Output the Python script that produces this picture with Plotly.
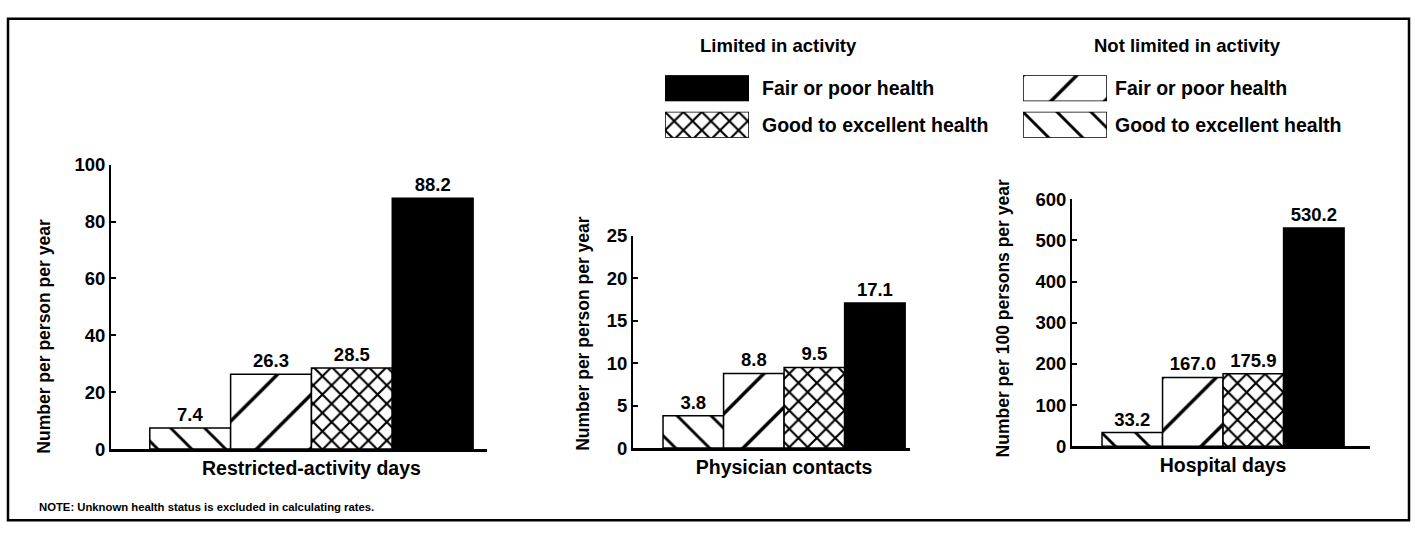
import plotly.graph_objects as go

W, H = 1415, 534

# ---- data ----
categories = ["Restricted-activity days", "Physician contacts", "Hospital days"]
not_limited_good = [7.4, 3.8, 33.2]
not_limited_fair = [26.3, 8.8, 167.0]
limited_good = [28.5, 9.5, 175.9]
limited_fair = [88.2, 17.1, 530.2]
y_tickvals = [[0, 20, 40, 60, 80, 100], [0, 5, 10, 15, 20, 25], [0, 100, 200, 300, 400, 500, 600]]
y_ranges = [[0, 100], [0, 25], [0, 600]]
y_titles = ["Number per person per year", "Number per person per year",
            "Number per 100 persons per year"]
group_headers = ["Limited in activity", "Not limited in activity"]
health_labels = ["Fair or poor health", "Good to excellent health"]
note_text = "NOTE: Unknown health status is excluded in calculating rates."
swatch_value = [1]

FONT = "Liberation Sans"


def fnt(size):
    return dict(family=FONT, size=size, color="black", weight="bold")


def fx(p):
    return p / W


def fy(p):
    return 1 - p / H


def pat(shape, size, solidity):
    return dict(shape=shape, fgcolor="black", bgcolor="white", fgopacity=1,
                fillmode="replace", size=size, solidity=solidity)


styles = {
    "nl_good": dict(color="white", pattern=pat("\\", 24, 0.12)),
    "nl_fair": dict(color="white", pattern=pat("/", 38, 0.09)),
    "l_good": dict(color="white", pattern=pat("x", 13, 0.3)),
    "l_fair": dict(color="black"),
}

series = [
    ("nl_good", "Not limited: " + health_labels[1], not_limited_good),
    ("nl_fair", "Not limited: " + health_labels[0], not_limited_fair),
    ("l_good", "Limited: " + health_labels[1], limited_good),
    ("l_fair", "Limited: " + health_labels[0], limited_fair),
]

# panel geometry (pixels)
x_domains_px = [(111, 487), (633, 910), (1072, 1370)]
y_domains_px = [(456, 160), (455, 234), (453, 196)]
x_ranges = [[-0.62, 0.543], [-0.624, 0.52], [-0.624, 0.607]]
ytitle_pos = [(44, 339), (583, 336), (1003, 320)]

fig = go.Figure()
layout = {}

for i in range(3):
    ax = "" if i == 0 else str(i + 1)
    for key, name, vals in series:
        st = styles[key]
        fig.add_trace(go.Bar(
            x=[categories[i]], y=[vals[i]], name=name, showlegend=False,
            xaxis="x" + ax, yaxis="y" + ax,
            marker=dict(color=st["color"], pattern=st.get("pattern"),
                        line=dict(color="black", width=1.5)),
            text=[f"{vals[i]:.1f}"], textposition="outside", constraintext="none",
            textfont=fnt(18.5), cliponaxis=False,
        ))
    layout["xaxis" + ax] = dict(
        domain=[fx(x_domains_px[i][0]), fx(x_domains_px[i][1])],
        anchor="y" + ax, type="category", range=x_ranges[i],
        showline=True, linecolor="black", linewidth=2.5, ticks="",
        tickfont=fnt(19.5),
        showgrid=False, zeroline=False, fixedrange=True,
    )
    layout["yaxis" + ax] = dict(
        domain=[fy(y_domains_px[i][0]), fy(y_domains_px[i][1])],
        anchor="x" + ax, range=y_ranges[i], tickvals=y_tickvals[i],
        showline=True, linecolor="black", linewidth=2, ticks="inside", ticklen=5,
        tickcolor="black", tickwidth=2,
        tickfont=fnt(18.5),
        showgrid=False, zeroline=False, fixedrange=True,
    )

# legend swatches drawn as bars in small axes
swatches = [
    ("l_fair", (665, 749), (94, 67)),
    ("l_good", (665, 749), (132, 105)),
    ("nl_fair", (1023, 1107), (94, 67)),
    ("nl_good", (1023, 1107), (132, 105)),
]
for j, (key, xs, ys) in enumerate(swatches):
    n = str(4 + j)
    st = styles[key]
    fig.add_trace(go.Bar(
        x=[0], y=swatch_value, width=1, showlegend=False, hoverinfo="skip",
        xaxis="x" + n, yaxis="y" + n,
        marker=dict(color=st["color"], pattern=st.get("pattern"),
                    line=dict(color="black", width=1.5)),
    ))
    layout["xaxis" + n] = dict(domain=[fx(xs[0]), fx(xs[1])], anchor="y" + n, range=[-0.5, 0.5],
                               visible=False, fixedrange=True)
    layout["yaxis" + n] = dict(domain=[fy(ys[0]), fy(ys[1])], anchor="x" + n, range=[0, 1],
                               visible=False, fixedrange=True)

annotations = []
for i in range(3):
    annotations.append(dict(
        text=y_titles[i], x=fx(ytitle_pos[i][0]), y=fy(ytitle_pos[i][1]),
        xref="paper", yref="paper", textangle=-90, showarrow=False,
        xanchor="center", yanchor="middle", font=fnt(17.5),
    ))

# legend headers and labels
annotations.append(dict(text=group_headers[0], x=fx(779), y=fy(36), xref="paper", yref="paper",
                        showarrow=False, xanchor="center", yanchor="middle", font=fnt(18.5)))
annotations.append(dict(text=group_headers[1], x=fx(1187), y=fy(36), xref="paper", yref="paper",
                        showarrow=False, xanchor="center", yanchor="middle", font=fnt(18.5)))
for (xl, row_y) in [(760, 80), (1113, 80)]:
    annotations.append(dict(text=health_labels[0], x=fx(xl), y=fy(row_y), xref="paper", yref="paper",
                            showarrow=False, xanchor="left", yanchor="middle", font=fnt(19.5)))
for (xl, row_y) in [(760, 119), (1113, 119)]:
    annotations.append(dict(text=health_labels[1], x=fx(xl), y=fy(row_y), xref="paper", yref="paper",
                            showarrow=False, xanchor="left", yanchor="middle", font=fnt(19.5)))

annotations.append(dict(text=note_text, x=fx(37), y=fy(516), xref="paper", yref="paper",
                        showarrow=False, xanchor="left", yanchor="middle", font=fnt(11.3)))

fig.update_layout(
    **layout,
    width=W, height=H, autosize=False,
    margin=dict(l=0, r=0, t=0, b=0),
    paper_bgcolor="white", plot_bgcolor="white",
    barmode="group", bargap=0, bargroupgap=0,
    annotations=annotations,
    shapes=[dict(type="rect", xref="paper", yref="paper",
                 x0=fx(8), x1=fx(1409), y0=fy(530), y1=fy(8),
                 line=dict(color="black", width=2.5))],
    showlegend=False,
    hovermode=False,
)

fig.write_html(
    "out.html",
    config={"displayModeBar": False, "staticPlot": True},
    post_script="document.body.style.margin='0';document.body.style.padding='0';document.body.style.overflow='hidden';",
)
